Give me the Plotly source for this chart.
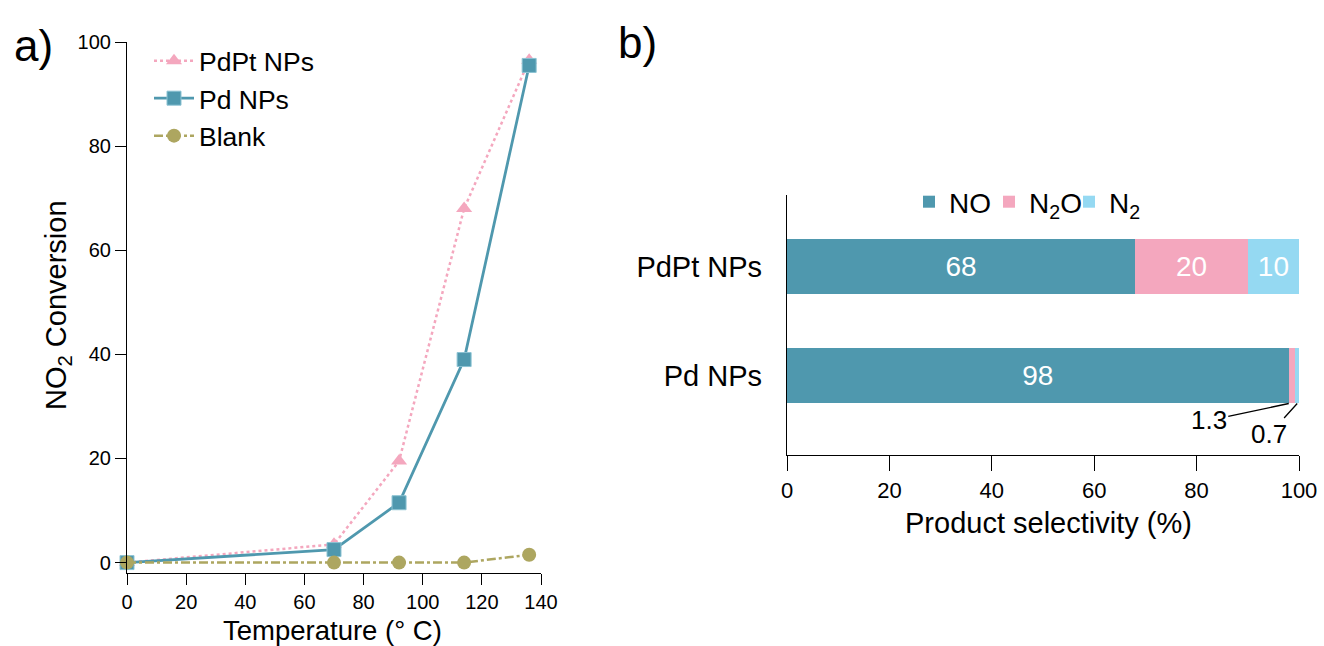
import plotly.graph_objects as go

# ---- data: panel a ----
temperature = [0, 70, 92, 114, 136]
pdpt_conv = [0, 3.5, 19.5, 68, 96.5]
pd_conv = [0, 2.5, 11.5, 39, 95.5]
blank_conv = [0, 0, 0, 0, 1.5]

# ---- data: panel b ----
catalysts = ["Pd NPs", "PdPt NPs"]
sel_NO = [98, 68]
sel_N2O = [1.3, 22]
sel_N2 = [0.7, 10]
lbl_NO = ["98", "68"]
lbl_N2O = ["", "20"]
lbl_N2 = ["", "10"]
small_lbl_N2O = "1.3"
small_lbl_N2 = "0.7"

TEAL = "#4F98AE"
PINK = "#F4A7BE"
LBLUE = "#95D9F2"
OLIVE = "#ADA660"
FONT = "Liberation Sans, Arial, sans-serif"

fig = go.Figure()

fig.add_trace(go.Scatter(
    x=temperature, y=pdpt_conv, name="PdPt NPs", mode="lines+markers",
    line=dict(color=PINK, width=2.5, dash="dot"),
    marker=dict(symbol="triangle-up", size=14, color=PINK),
    cliponaxis=False, xaxis="x", yaxis="y", legend="legend"))
fig.add_trace(go.Scatter(
    x=temperature, y=pd_conv, name="Pd NPs", mode="lines+markers",
    line=dict(color=TEAL, width=2.8),
    marker=dict(symbol="square", size=14, color=TEAL, line=dict(color="#8CC3D3", width=1)),
    cliponaxis=False, xaxis="x", yaxis="y", legend="legend"))
fig.add_trace(go.Scatter(
    x=temperature, y=blank_conv, name="Blank", mode="lines+markers",
    line=dict(color=OLIVE, width=2.5, dash="dashdot"),
    marker=dict(symbol="circle", size=14, color=OLIVE),
    cliponaxis=False, xaxis="x", yaxis="y", legend="legend"))

bar_specs = [("NO", sel_NO, lbl_NO, TEAL, "legend2"),
             ("N<sub>2</sub>O", sel_N2O, lbl_N2O, PINK, "legend3"),
             ("N<sub>2</sub>", sel_N2, lbl_N2, LBLUE, "legend4")]
for name, vals, lbls, col, leg in bar_specs:
    fig.add_trace(go.Bar(
        y=catalysts, x=vals, name=name, orientation="h",
        marker=dict(color=col, line=dict(width=0)),
        text=lbls, textposition="inside", insidetextanchor="middle",
        textangle=0, textfont=dict(color="white", size=28, family=FONT),
        constraintext="none", hoverinfo="x+name",
        xaxis="x2", yaxis="y2", legend=leg))

axis_common = dict(showgrid=False, zeroline=False, showline=True, linecolor="black",
                   linewidth=1.2, ticks="outside", tickcolor="black", tickwidth=1.2,
                   mirror=False, automargin=False)

bar_legend = lambda xpx: dict(orientation="h", x=xpx/1324, y=1-202/646, xanchor="left",
                              yanchor="middle", font=dict(size=28), bgcolor="rgba(0,0,0,0)",
                              itemwidth=30)

fig.update_layout(
    width=1324, height=646,
    margin=dict(l=0, r=0, t=0, b=0, pad=0, autoexpand=False),
    paper_bgcolor="white", plot_bgcolor="white",
    font=dict(family=FONT, color="black"),
    barmode="stack", bargap=0.495,
    showlegend=True,
    xaxis=dict(domain=[127/1324, 541/1324], range=[0, 140], tickvals=[0, 20, 40, 60, 80, 100, 120, 140],
               ticklen=11, tickfont=dict(size=20), anchor="y", **axis_common),
    yaxis=dict(domain=[(646-573)/646, (646-42)/646], range=[-2, 100], tickvals=[0, 20, 40, 60, 80, 100],
               ticklen=11, tickfont=dict(size=20), anchor="x", **axis_common),
    xaxis2=dict(domain=[787/1324, 1299/1324], range=[0, 100], tickvals=[0, 20, 40, 60, 80, 100],
                ticklen=15, tickfont=dict(size=22), anchor="y2", **axis_common),
    yaxis2=dict(domain=[(646-455)/646, (646-195)/646], range=[-0.725, 1.66], type="category",
                showgrid=False, zeroline=False, showline=True, linecolor="black", linewidth=1.2,
                ticks="", tickfont=dict(size=29), ticklabelstandoff=18, anchor="x2",
                automargin=False),
    legend=dict(x=149/1324, y=1-37/646, xanchor="left", yanchor="top",
                font=dict(size=26.5), bgcolor="rgba(0,0,0,0)", tracegroupgap=0,
                itemwidth=40),
    legend2=bar_legend(909),
    legend3=bar_legend(989),
    legend4=bar_legend(1069),
)

annotations = [
    dict(text="a)", x=33/1324, y=1-45/646, xref="paper", yref="paper", showarrow=False,
         font=dict(size=44), xanchor="center", yanchor="middle"),
    dict(text="b)", x=637/1324, y=1-43/646, xref="paper", yref="paper", showarrow=False,
         font=dict(size=44), xanchor="center", yanchor="middle"),
    dict(text="NO<sub>2</sub> Conversion", x=58/1324, y=1-305/646, xref="paper", yref="paper",
         showarrow=False, textangle=-90, font=dict(size=29), xanchor="center", yanchor="middle"),
    dict(text="Temperature (° C)", x=332/1324, y=1-630/646, xref="paper", yref="paper",
         showarrow=False, font=dict(size=27.5), xanchor="center", yanchor="middle"),
    dict(text="Product selectivity (%)", x=1048/1324, y=1-523/646, xref="paper", yref="paper",
         showarrow=False, font=dict(size=29), xanchor="center", yanchor="middle"),
    dict(text=small_lbl_N2O, x=sel_NO[0], y=-0.2525, xref="x2", yref="y2",
         showarrow=True, arrowhead=0, arrowwidth=1.3, arrowcolor="black",
         ax=-80, ay=17, font=dict(size=26), standoff=0),
    dict(text=small_lbl_N2, x=sel_NO[0] + sel_N2O[0] + sel_N2[0] / 2, y=-0.2525, xref="x2", yref="y2",
         showarrow=True, arrowhead=0, arrowwidth=1.3, arrowcolor="black",
         ax=-28, ay=31, font=dict(size=26), standoff=0),
]
fig.update_layout(annotations=annotations)

fig.write_html("out.html", config={"displayModeBar": False},
               post_script="document.body.style.margin='0';document.body.style.padding='0';")
